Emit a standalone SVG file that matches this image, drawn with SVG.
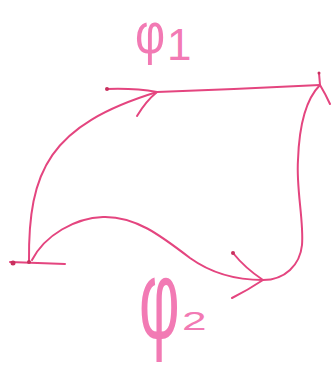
<svg xmlns="http://www.w3.org/2000/svg" width="331" height="367" viewBox="0 0 331 367">
<style>
.ln{fill:none;stroke:#e4457f;stroke-width:2;stroke-linecap:round;stroke-linejoin:round}
.dot{fill:#c8305e}
.lbl{fill:#f27ab4;font-family:"Liberation Sans",Arial,sans-serif}
</style>
<rect width="331" height="367" fill="#ffffff"/>
<g id="connectors">
<path class="ln" d="M29,262 C28,170 50,125 157,92"/>
<path class="ln" d="M107,89 Q135,88 157,92 Q240,89 320,85"/>
<path class="ln" d="M137,116 Q146,101 157,92"/>
<path class="ln" d="M32,260 C45,235 75,218 103,217 C135,216 160,235 190,258 C215,276 240,280 263,280 C285,280 300,265 302,245 C304,220 296,190 298,160 C299,130 305,100 320,85"/>
<path class="ln" d="M233,253 Q245,268 263,280"/>
<path class="ln" d="M232,298 Q248,290 263,280"/>
<path class="ln" d="M319,73 L320,85 Q326,95 330,104"/>
</g>
<g id="node-left">
<path class="ln" d="M10,262 L65,264"/>
<circle class="dot" cx="13" cy="263" r="2.5"/>
<circle class="dot" cx="29" cy="262" r="2"/>
</g>
<g id="node-top">
<circle class="dot" cx="107" cy="89" r="2"/>
</g>
<g id="node-right">
<circle class="dot" cx="319" cy="73" r="1.5"/>
</g>
<g id="node-bottom">
<circle class="dot" cx="233" cy="253" r="2"/>
</g>
<g id="label-phi1">
<text class="lbl" font-size="58" transform="translate(135,53) scale(0.8,1)">φ</text>
<text class="lbl" font-size="44" x="167" y="60">1</text>
</g>
<g id="label-phi2">
<text class="lbl" font-size="114" transform="translate(139,339) scale(0.55,1)">φ</text>
<text class="lbl" font-size="26" transform="translate(182,330) scale(1.7,1)">2</text>
</g>
</svg>
